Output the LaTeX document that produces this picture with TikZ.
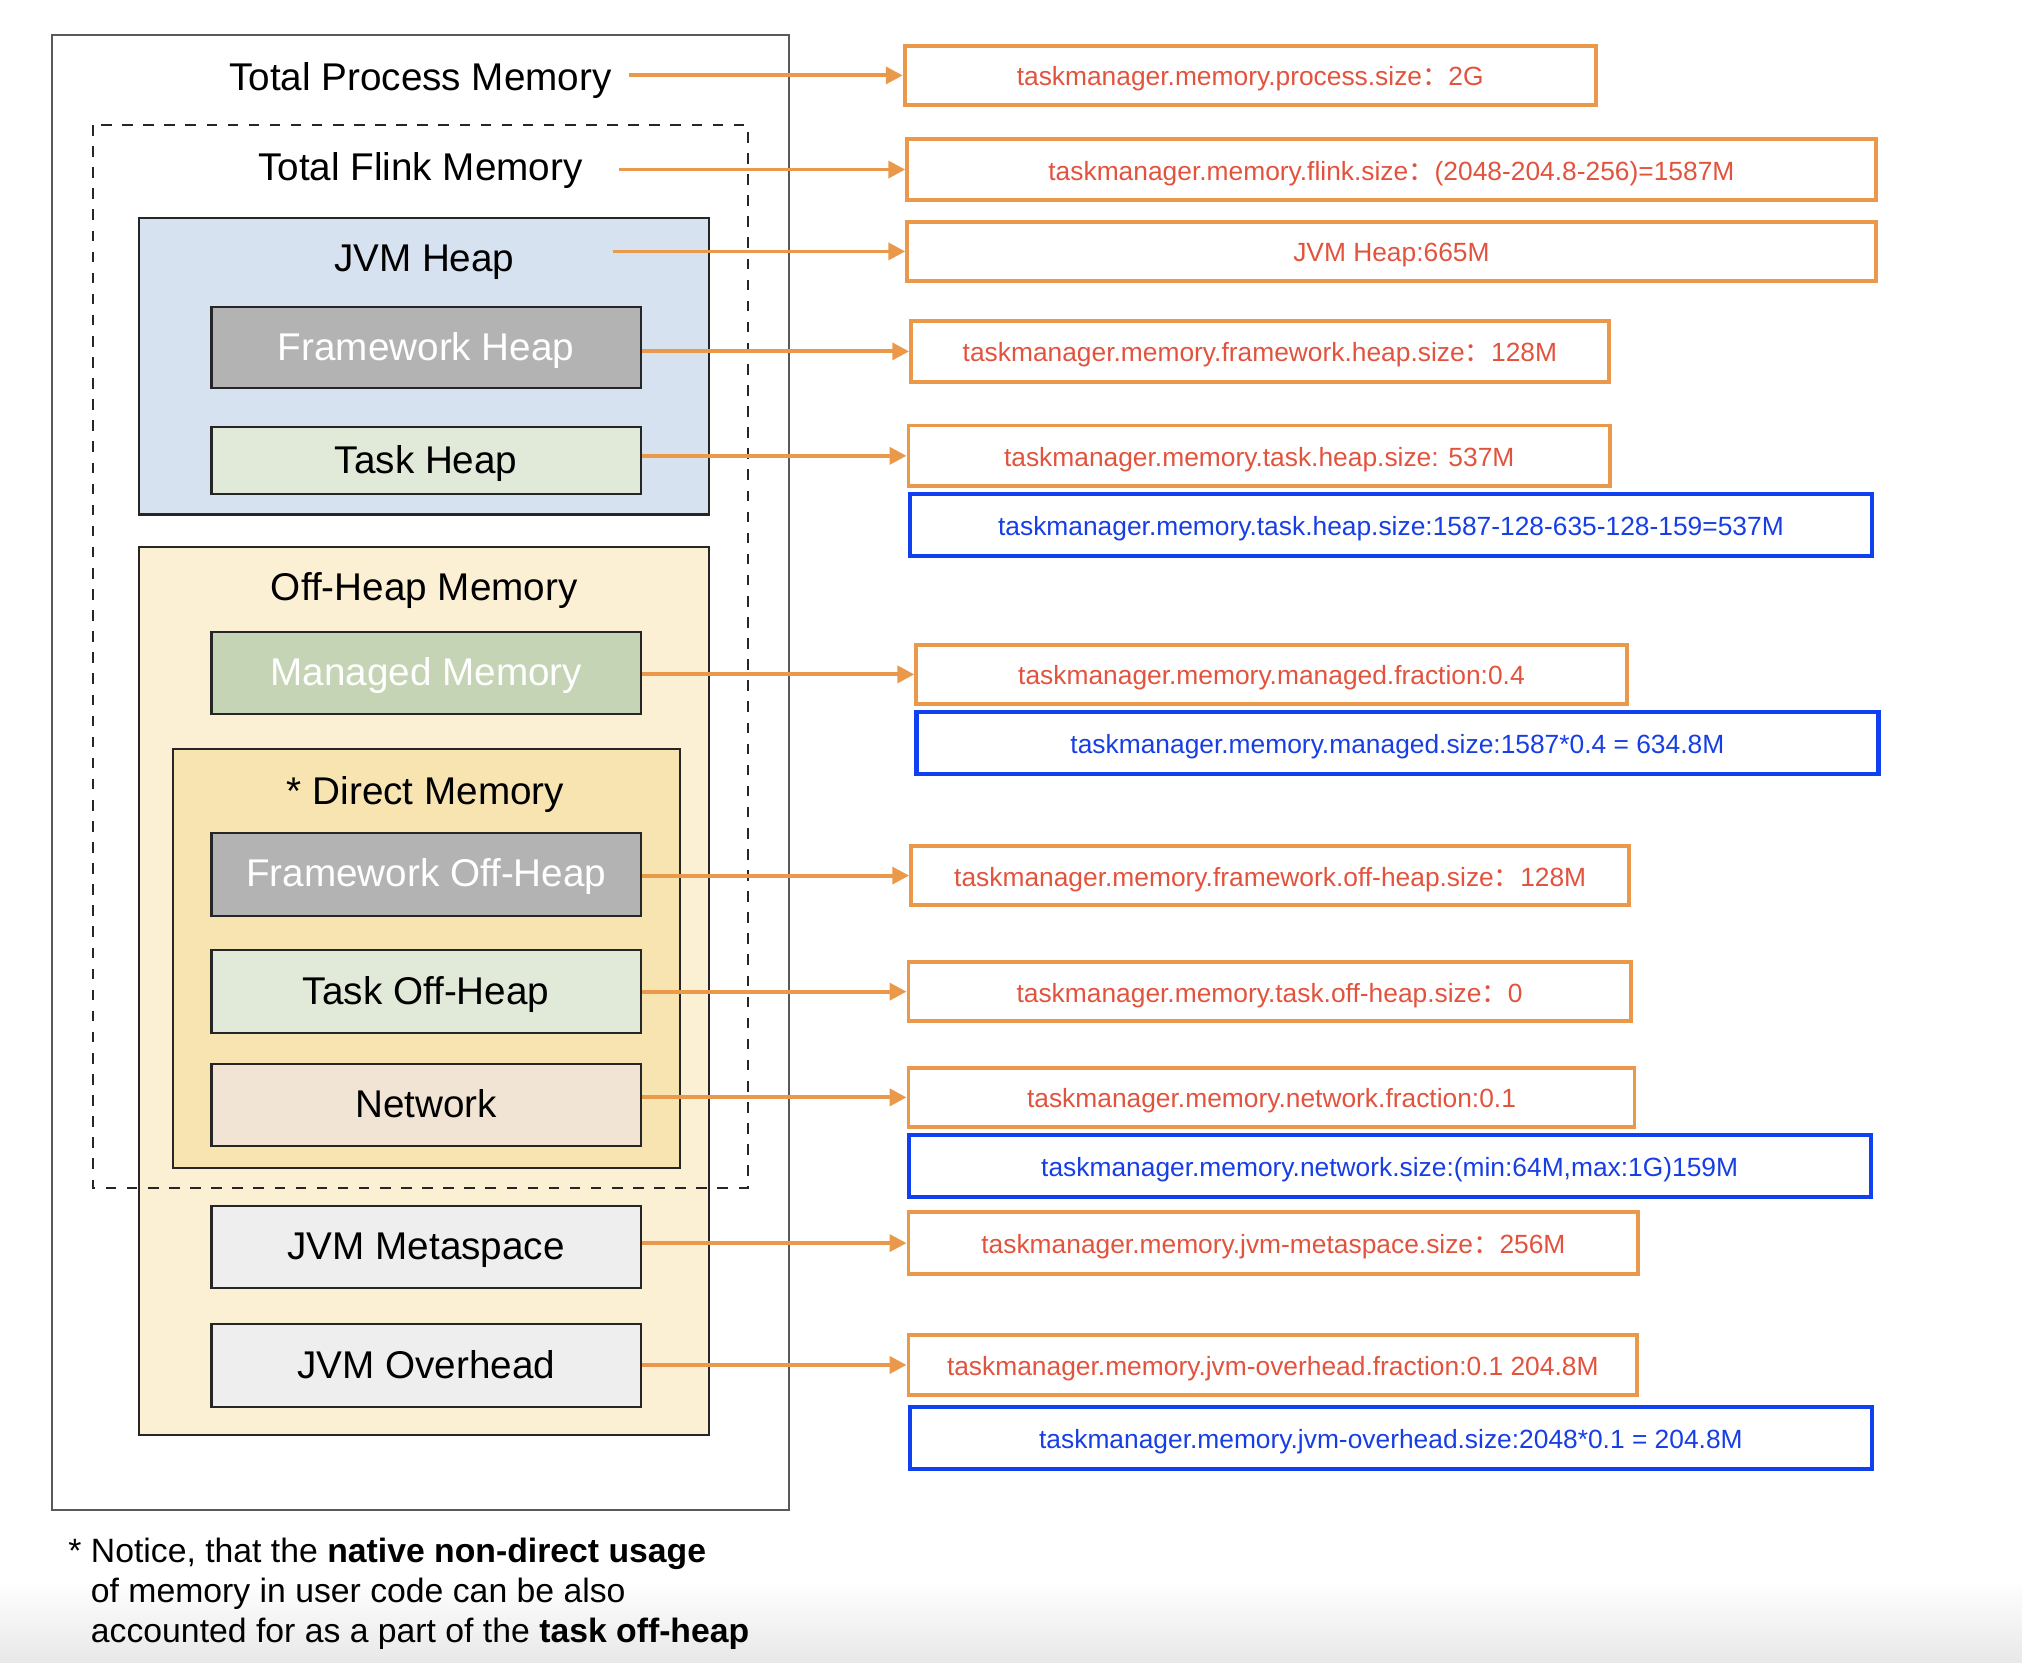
\documentclass[tikz,border=0pt]{standalone}
\usepackage{fontspec}
\setmainfont{Liberation Sans}
\newfontfamily\cjk{Noto Sans CJK SC}
\usetikzlibrary{arrows.meta,positioning,calc}

\definecolor{orangeline}{RGB}{233,153,73}
\definecolor{redtext}{RGB}{226,83,62}
\definecolor{blueline}{RGB}{16,64,240}
\definecolor{bluetext}{RGB}{22,62,228}
\definecolor{heapblue}{RGB}{215,226,240}
\definecolor{fwgrey}{RGB}{179,179,179}
\definecolor{taskgreen}{RGB}{225,234,216}
\definecolor{offcream}{RGB}{251,240,212}
\definecolor{managedgreen}{RGB}{197,212,180}
\definecolor{directyellow}{RGB}{247,228,177}
\definecolor{netpeach}{RGB}{242,228,212}
\definecolor{jvmgrey}{RGB}{238,238,238}

\newcommand{\pxu}{0.36686pt}
\newcommand{\fwc}{{\cjk ：}}

\begin{document}
\begin{tikzpicture}[x=0.36686pt,y=-0.36686pt,
    frame/.style={draw=black!85,line width=0.6pt},
    title/.style={inner sep=0pt,text height=0.72em,text depth=0pt,font=\fontsize{11}{13}\selectfont},
    part/.style={frame,inner sep=0pt,minimum width=333*\pxu,minimum height=64*\pxu,text height=0.72em,text depth=0pt,font=\fontsize{11}{13}\selectfont},
    cfg/.style={draw=orangeline,line width=1.1pt,text=redtext,anchor=west,inner sep=0pt,minimum height=46*\pxu,text height=0.72em,text depth=0.12em,font=\fontsize{7.5}{9}\selectfont},
    calc/.style={cfg,draw=blueline,line width=1.2pt,text=bluetext,minimum height=48*\pxu},
    feed/.style={draw=orangeline,line width=1.1pt,-{Triangle[length=4.8pt,width=4.8pt]}}]

    \useasboundingbox (0,0) rectangle (1568,1289);
    \shade[top color=white,bottom color=black!9] (0,1225) rectangle (1568,1289);

    % containers
    \draw[draw=black!65,line width=0.6pt] (40,27) rectangle (612,1171);
    \filldraw[frame,fill=heapblue] (108,169) rectangle (550,399);
    \filldraw[frame,fill=offcream] (108,424) rectangle (550,1113);
    \filldraw[frame,fill=directyellow] (134,581) rectangle (527,906);
    \draw[black!85,line width=0.6pt,dashed] (72,97) rectangle (580,921);

    \node[title] (tpm) at (326,60) {Total Process Memory};
    \node[title] (tfm) at (326,130) {Total Flink Memory};
    \node[title] (jvmheap) at (329,201) {JVM Heap};
    \node[title] (offheap) at (329,456) {Off-Heap Memory};
    \node[title] (direct) at (330,614) {* Direct Memory};

    \node[part,fill=fwgrey,text=white,minimum height=63*\pxu] (fwheap) at (330.5,269.5) {Framework Heap};
    \node[part,fill=taskgreen,minimum height=52*\pxu] (taskheap) at (330.5,357) {Task Heap};
    \node[part,fill=managedgreen,text=white] (managed) at (330.5,522) {Managed Memory};
    \node[part,fill=fwgrey,text=white] (fwoff) at (330.5,678) {Framework Off-Heap};
    \node[part,fill=taskgreen] (taskoff) at (330.5,769) {Task Off-Heap};
    \node[part,fill=netpeach] (network) at (330.5,857) {Network};
    \node[part,fill=jvmgrey] (meta) at (330.5,967) {JVM Metaspace};
    \node[part,fill=jvmgrey] (overhead) at (330.5,1059) {JVM Overhead};

    % config boxes
    \node[cfg,minimum width=536*\pxu] (cProc) at (700,58.5) {taskmanager.memory.process.size\fwc2G};
    \node[cfg,minimum width=751*\pxu,minimum height=47*\pxu] (cFlink) at (702,131.5) {taskmanager.memory.flink.size\fwc(2048-204.8-256)=1587M};
    \node[cfg,minimum width=751*\pxu] (cHeap) at (702,195) {JVM Heap:665M};
    \node[cfg,minimum width=541*\pxu,minimum height=47*\pxu] (cFwHeap) at (705,272.5) {taskmanager.memory.framework.heap.size\fwc128M};
    \node[cfg,minimum width=544*\pxu,minimum height=47*\pxu] (cTaskHeap) at (703,353.5) {taskmanager.memory.task.heap.size: 537M};
    \node[calc,minimum width=746*\pxu] (sTaskHeap) at (704,407) {taskmanager.memory.task.heap.size:1587-128-635-128-159=537M};
    \node[cfg,minimum width=551*\pxu] (cManaged) at (709,523) {taskmanager.memory.managed.fraction:0.4};
    \node[calc,minimum width=746*\pxu] (sManaged) at (709,576) {taskmanager.memory.managed.size:1587*0.4 = 634.8M};
    \node[cfg,minimum width=557*\pxu] (cFwOff) at (705,679) {taskmanager.memory.framework.off-heap.size\fwc128M};
    \node[cfg,minimum width=560*\pxu] (cTaskOff) at (703,769) {taskmanager.memory.task.off-heap.size\fwc0};
    \node[cfg,minimum width=563*\pxu] (cNet) at (703,851) {taskmanager.memory.network.fraction:0.1};
    \node[calc,minimum width=746*\pxu] (sNet) at (703,904) {taskmanager.memory.network.size:(min:64M,max:1G)159M};
    \node[cfg,minimum width=566*\pxu,minimum height=48*\pxu] (cMeta) at (703,964) {taskmanager.memory.jvm-metaspace.size\fwc256M};
    \node[cfg,minimum width=565*\pxu,minimum height=47*\pxu] (cOver) at (703,1058.5) {taskmanager.memory.jvm-overhead.fraction:0.1 204.8M};
    \node[calc,minimum width=746*\pxu] (sOver) at (704,1115) {taskmanager.memory.jvm-overhead.size:2048*0.1 = 204.8M};

    % arrows
    \coordinate (tpmA) at (488,58.5);
    \coordinate (tfmA) at (480,131.5);
    \coordinate (jvmA) at (475,195);
    \draw[feed] (tpmA) -- (cProc);
    \draw[feed] (tfmA) -- (cFlink);
    \draw[feed] (jvmA) -- (cHeap);
    \foreach \a/\b in {fwheap/cFwHeap,taskheap/cTaskHeap,managed/cManaged,fwoff/cFwOff,
                      taskoff/cTaskOff,network/cNet,meta/cMeta,overhead/cOver}
        \draw[feed] (\a.east |- \b) -- (\b);

    \node[inner sep=0pt,anchor=north west,align=left,font=\fontsize{9.6}{11.4}\selectfont] (note) at (70,1192)
        {\llap{* }Notice, that the \textbf{native non-direct usage}\\
         of memory in user code can be also\\
         accounted for as a part of the \textbf{task off-heap}};
\end{tikzpicture}
\end{document}
